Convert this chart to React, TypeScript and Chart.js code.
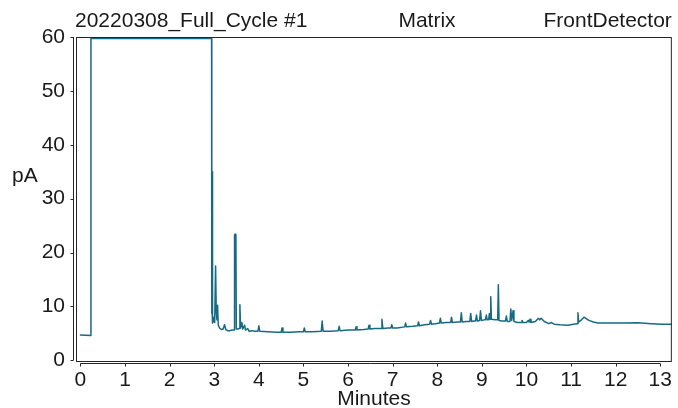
import { useEffect, useRef } from "react";
import { Chart, registerables } from "chart.js";

Chart.register(...registerables);

// Chromatogram trace (minutes, pA)
const times = [
  0.0, 0.23, 0.235, 2.94, 2.945, 2.952, 2.958, 2.965, 2.975, 2.99, 3.01, 3.03, 3.045, 3.06, 3.075, 3.09,
  3.12, 3.16, 3.2, 3.23, 3.26, 3.3, 3.35, 3.4, 3.445, 3.455, 3.47, 3.485, 3.495, 3.52, 3.56, 3.575,
  3.59, 3.62, 3.64, 3.68, 3.7, 3.75, 3.78, 3.85, 3.9, 3.98, 4.0, 4.02, 4.2, 4.4, 4.5, 4.52,
  4.54, 4.7, 4.9, 5.0, 5.02, 5.04, 5.2, 5.4, 5.42, 5.44, 5.6, 5.78, 5.8, 5.82, 6.0, 6.16,
  6.18, 6.2, 6.35, 6.45, 6.47, 6.49, 6.6, 6.74, 6.76, 6.78, 6.9, 6.96, 6.98, 7.0, 7.1,
  7.27, 7.29, 7.31, 7.45, 7.56, 7.58, 7.6, 7.72, 7.83, 7.85, 7.87, 7.96, 8.05, 8.07, 8.09,
  8.2, 8.3, 8.32, 8.34, 8.45, 8.52, 8.54, 8.56, 8.65, 8.73, 8.75, 8.77, 8.82, 8.86, 8.88, 8.9,
  8.95, 8.97, 8.99, 9.05, 9.08, 9.1, 9.12, 9.15, 9.17, 9.185, 9.2, 9.215, 9.3, 9.355, 9.37, 9.385,
  9.45, 9.53, 9.55, 9.57, 9.63, 9.65, 9.67, 9.7, 9.72, 9.8, 9.88, 9.9, 9.92, 10.0, 10.04, 10.06,
  10.08, 10.1, 10.2, 10.27, 10.3, 10.33, 10.4, 10.5, 10.56, 10.62, 10.75, 10.93, 11.05, 11.14, 11.155, 11.17,
  11.22, 11.29, 11.4, 11.5, 11.6, 11.9, 12.2, 12.5, 12.8, 13.05, 13.26,
];
const signal = [
  4.7, 4.6, 59.7, 59.7, 8.7, 9.0, 35.0, 6.9, 8.0, 7.2, 7.0, 17.5, 9.0, 7.5, 10.2, 6.5,
  6.0, 5.7, 5.8, 6.6, 5.7, 5.5, 5.5, 5.6, 5.6, 23.3, 23.4, 23.3, 5.8, 5.8, 5.9, 10.3,
  6.0, 7.0, 5.8, 6.5, 5.6, 5.9, 5.4, 5.5, 5.4, 5.4, 6.4, 5.4, 5.3, 5.2, 5.2, 6.0,
  5.2, 5.2, 5.3, 5.3, 6.0, 5.3, 5.3, 5.4, 7.3, 5.4, 5.4, 5.5, 6.3, 5.5, 5.6, 5.6,
  6.2, 5.6, 5.7, 5.8, 6.5, 5.8, 5.9, 5.9, 7.6, 5.9, 6.0, 6.0, 6.6, 6.0, 6.0,
  6.2, 6.9, 6.2, 6.3, 6.4, 7.1, 6.4, 6.6, 6.7, 7.4, 6.7, 6.8, 6.9, 7.8, 6.9,
  7.0, 7.0, 8.0, 7.0, 7.1, 7.1, 8.8, 7.1, 7.2, 7.2, 8.7, 7.2, 7.3, 7.3, 8.4, 7.3,
  7.4, 9.2, 7.4, 7.5, 7.5, 8.4, 7.5, 7.5, 8.7, 7.6, 11.8, 7.6, 7.5, 7.5, 14.0, 7.4,
  7.3, 7.3, 8.2, 7.2, 7.2, 9.5, 7.4, 9.2, 7.2, 7.0, 7.0, 7.4, 7.0, 7.0, 7.4, 7.1,
  7.6, 7.0, 7.2, 7.8, 7.5, 7.8, 7.2, 6.8, 7.0, 6.7, 6.6, 6.5, 6.7, 6.8, 8.8, 7.1,
  7.4, 8.0, 7.4, 7.1, 6.9, 6.9, 6.9, 6.95, 6.8, 6.7, 6.7,
];

const xTicks = [0, 1, 2, 3, 4, 5, 6, 7, 8, 9, 10, 11, 12, 13];
const yTicks = [0, 10, 20, 30, 40, 50, 60];

const runName = "20220308_Full_Cycle #1";
const sampleName = "Matrix";
const detectorName = "FrontDetector";
const xTitle = "Minutes";
const yTitle = "pA";

const FONT = '"Liberation Sans", Arial, Helvetica, sans-serif';
const TEXT = "#1a1a1a";
const LINE = "#176a84";

const framePlugin = {
  id: "frame",
  afterDraw(chart: any) {
    const { ctx, chartArea: a, scales } = chart;
    const x = scales.x;
    const y = scales.y;
    ctx.save();
    ctx.strokeStyle = "#262626";
    ctx.lineWidth = 1;
    ctx.strokeRect(a.left + 0.5, a.top + 0.5, a.right - a.left - 1, a.bottom - a.top - 1);
    const ax = Math.round(a.left) - 3 + 0.5;
    ctx.beginPath();
    ctx.moveTo(ax, y.getPixelForValue(yTicks[yTicks.length - 1]));
    ctx.lineTo(ax, y.getPixelForValue(yTicks[0]));
    for (const v of yTicks) {
      const py = Math.round(y.getPixelForValue(v)) + 0.5;
      ctx.moveTo(ax - 3, py);
      ctx.lineTo(ax, py);
    }
    ctx.stroke();
    const ay = Math.round(a.bottom) + 1.5;
    ctx.beginPath();
    ctx.moveTo(x.getPixelForValue(xTicks[0]), ay);
    ctx.lineTo(x.getPixelForValue(xTicks[xTicks.length - 1]), ay);
    for (const v of xTicks) {
      const px = Math.round(x.getPixelForValue(v)) + 0.5;
      ctx.moveTo(px, ay);
      ctx.lineTo(px, ay + 3);
    }
    ctx.stroke();

    ctx.fillStyle = TEXT;
    ctx.font = `21px ${FONT}`;
    ctx.textBaseline = "alphabetic";
    ctx.textAlign = "left";
    ctx.fillText(runName, a.left - 1, 27);
    ctx.textAlign = "center";
    ctx.fillText(sampleName, 427, 27);
    ctx.textAlign = "right";
    ctx.fillText(detectorName, a.right, 27);
    ctx.textAlign = "left";
    ctx.fillText(yTitle, 12, 182);
    ctx.textAlign = "center";
    ctx.fillText(xTitle, (a.left + a.right) / 2, 405);
    ctx.restore();
  },
};

export default function App() {
  const ref = useRef<HTMLCanvasElement | null>(null);

  useEffect(() => {
    if (!ref.current) return;
    const chart = new Chart(ref.current, {
      type: "line",
      data: {
        datasets: [
          {
            data: times.map((t, i) => ({ x: t, y: signal[i] })),
            borderColor: LINE,
            borderWidth: 1.5,
            borderJoinStyle: "round",
            borderCapStyle: "round",
            pointRadius: 0,
            tension: 0,
            fill: false,
          },
        ],
      },
      options: {
        animation: false,
        responsive: false,
        maintainAspectRatio: false,
        layout: { padding: { left: 0, right: 4, top: 37, bottom: 0 } },
        plugins: { legend: { display: false }, tooltip: { enabled: false }, title: { display: false } },
        scales: {
          x: {
            type: "linear",
            min: -0.1,
            max: 13.26,
            grid: { display: false, drawTicks: false, tickLength: 0 },
            border: { display: false },
            afterBuildTicks: (s: any) => {
              s.ticks = xTicks.map((v) => ({ value: v }));
            },
            afterFit: (s: any) => {
              s.height = 46;
            },
            ticks: {
              autoSkip: false,
              maxRotation: 0,
              padding: 6,
              color: TEXT,
              font: { family: FONT, size: 21 },
            },
          },
          y: {
            type: "linear",
            min: -0.32,
            max: 60,
            grid: { display: false, drawTicks: false, tickLength: 0 },
            border: { display: false },
            afterBuildTicks: (s: any) => {
              s.ticks = yTicks.map((v) => ({ value: v }));
            },
            afterFit: (s: any) => {
              s.width = 76;
            },
            ticks: {
              padding: 11,
              color: TEXT,
              font: { family: FONT, size: 21 },
            },
          },
        },
      },
      plugins: [framePlugin],
    });
    return () => chart.destroy();
  }, []);

  return (
    <div style={{ position: "absolute", left: 0, top: 0, width: 678, height: 408, background: "#fff" }}>
      <canvas ref={ref} width={678} height={408} style={{ display: "block", width: 678, height: 408 }} />
    </div>
  );
}
